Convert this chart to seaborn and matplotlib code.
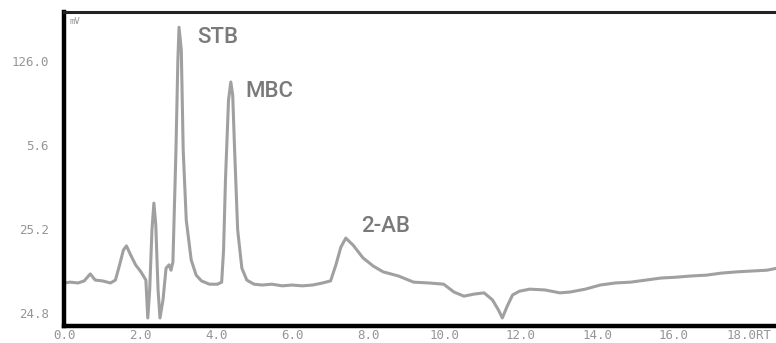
import matplotlib
matplotlib.use("Agg")
import matplotlib.pyplot as plt
import seaborn as sns
import pandas as pd

# Chromatogram trace: retention time (min) and detector signal (mV)
rt = [0.00, 0.16, 0.37, 0.53, 0.69, 0.82, 1.01, 1.22, 1.35, 1.46, 1.56, 1.64, 1.75,
      1.88, 2.02, 2.15, 2.20, 2.25, 2.31, 2.36, 2.41, 2.47, 2.52, 2.60, 2.68, 2.76,
      2.81, 2.86, 2.94, 2.99, 3.02, 3.08, 3.13, 3.21, 3.34, 3.47, 3.61, 3.82, 4.03,
      4.14, 4.19, 4.24, 4.32, 4.38, 4.43, 4.48, 4.56, 4.67, 4.80, 4.99, 5.20, 5.46,
      5.73, 5.99, 6.26, 6.53, 6.79, 7.00, 7.14, 7.27, 7.40, 7.59, 7.85, 8.12, 8.38,
      8.78, 9.18, 9.58, 9.97, 10.24, 10.50, 10.77, 11.03, 11.25, 11.41, 11.51, 11.64,
      11.78, 11.96, 12.23, 12.63, 13.02, 13.29, 13.69, 14.08, 14.48, 14.88, 15.28,
      15.68, 16.07, 16.47, 16.87, 17.27, 17.67, 18.06, 18.46, 18.73, 18.89]
signal = [12.1, 12.3, 12.1, 12.6, 14.3, 12.8, 12.6, 12.1, 12.8, 16.5, 20.1, 21.1, 18.9,
          16.5, 14.8, 12.8, 3.6, 10.4, 25.0, 31.5, 26.2, 10.4, 3.6, 8.0, 15.7, 16.5,
          15.2, 17.2, 44.4, 66.2, 74.2, 68.7, 44.4, 27.4, 17.7, 14.0, 12.6, 11.8, 11.8,
          12.3, 20.1, 37.1, 56.5, 60.9, 57.7, 44.4, 25.0, 15.7, 12.8, 11.8, 11.6, 11.8,
          11.4, 11.6, 11.4, 11.6, 12.1, 12.6, 16.5, 20.8, 23.0, 21.3, 18.2, 16.2, 14.8,
          13.8, 12.3, 12.1, 11.8, 9.9, 8.9, 9.4, 9.7, 8.0, 5.5, 3.6, 6.5,
          9.2, 10.1, 10.6, 10.4, 9.7, 9.9, 10.6, 11.6, 12.1, 12.3, 12.8,
          13.3, 13.5, 13.8, 14.0, 14.5, 14.8, 15.0, 15.2, 15.7, 16.2]

peak_names = ["STB", "MBC", "2-AB"]
peak_rt = [3.02, 4.38, 7.40]
peak_signal = [74.2, 60.9, 23.0]

x_ticks = [0, 2, 4, 6, 8, 10, 12, 14, 16, 18]
x_tick_labels = ["0.0", "2.0", "4.0", "6.0", "8.0", "10.0", "12.0", "14.0", "16.0", "18.0RT"]
y_ticks = [4.8, 25.2, 45.6, 66.0]
y_tick_labels = ["24.8", "25.2", "5.6", "126.0"]

df = pd.DataFrame({"rt": rt, "signal": signal})

sns.set_style("white")
plt.rcParams["font.family"] = ["DejaVu Sans Mono", "DejaVu Sans"]

fig = plt.figure(figsize=(7.76, 3.43), dpi=100)
ax = fig.add_axes([64 / 776, 17 / 343, 1 - 64 / 776 + 0.01, (326 - 12) / 343])

trace_color = "#a0a0a0"
sns.lineplot(data=df, x="rt", y="signal", ax=ax, color=trace_color, linewidth=2.2,
             estimator=None, sort=False)

ax.set_xlim(0, 18.9)
ax.set_ylim(1.65, 77.9)
ax.set_xticks(x_ticks)
ax.set_xticklabels(x_tick_labels)
ax.set_yticks(y_ticks)
ax.set_yticklabels(y_tick_labels)
ax.set_xlabel("")
ax.set_ylabel("")

label_color = "#959595"
ax.tick_params(axis="both", direction="in", colors="black", labelcolor=label_color,
               labelsize=9, width=2, length=4)
ax.tick_params(axis="y", pad=11)
ax.tick_params(axis="x", pad=2)

for side in ["left", "bottom"]:
    ax.spines[side].set_linewidth(3.2)
    ax.spines[side].set_color("black")
ax.spines["top"].set_linewidth(2.2)
ax.spines["top"].set_color("#222222")
ax.spines["right"].set_visible(False)

ax.text(0.15, 76.8, "mV", fontsize=6.5, color=label_color, va="top", ha="left")

# peak labels placed just right of each apex
offsets = [(0.48, -2.6), (0.37, -2.4), (0.40, 2.9)]
for name, x, y, (dx, dy) in zip(peak_names, peak_rt, peak_signal, offsets):
    ax.text(x + dx, y + dy, name, fontsize=16, fontweight="medium", color="#7a7a7a",
            family="Roboto", ha="left", va="center")

fig.savefig("out.png", dpi=100)
